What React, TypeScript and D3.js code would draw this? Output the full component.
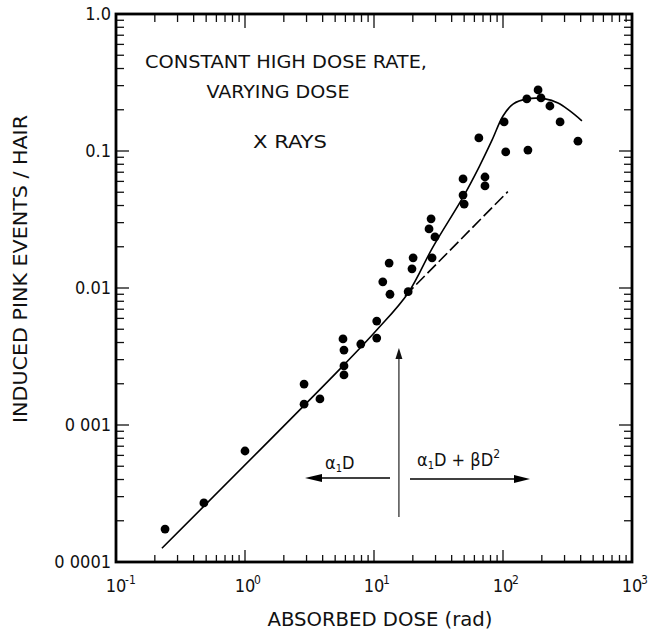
import React from 'react';
import * as d3 from 'd3';

// measured points (dose in rad, induced pink events per hair)
const pointDose = [0.24, 0.48, 1.0, 2.87, 2.87, 3.81, 5.75, 5.85, 5.85, 5.85, 7.9, 10.5, 10.5, 11.7, 13.3, 13.1, 18.4, 20.1, 19.7, 28.2, 26.7, 27.7, 29.7, 49, 49, 50, 72.5, 72.5, 65, 102, 105, 156, 153, 187, 197, 231, 277, 381];
const pointEvents = [1.74e-4, 2.7e-4, 6.46e-4, 1.99e-3, 1.42e-3, 1.55e-3, 4.25e-3, 3.52e-3, 2.7e-3, 2.32e-3, 3.9e-3, 4.31e-3, 5.74e-3, 0.0111, 0.009, 0.0152, 0.0094, 0.0166, 0.0138, 0.0166, 0.027, 0.032, 0.0236, 0.0625, 0.0477, 0.041, 0.0646, 0.0556, 0.1245, 0.163, 0.0984, 0.1016, 0.24, 0.279, 0.244, 0.213, 0.163, 0.118];

// fitted alpha1 D + beta D^2 curve (solid)
const fitDose = [0.227, 5.75, 10.5, 18.4, 28.6, 49, 65.2, 82.2, 100, 119.6, 153.5, 212, 267, 330, 409];
const fitEvents = [1.26e-4, 2.7e-3, 4.93e-3, 9.2e-3, 0.0199, 0.0461, 0.0764, 0.12, 0.18, 0.22, 0.24, 0.24, 0.224, 0.196, 0.166];

// linear alpha1 D extension (dashed)
const linDose = [17.4, 109];
const linEvents = [8.75e-3, 0.0505];

const yTickValues = [1, 0.1, 0.01, 0.001, 0.0001];
const yTickLabels = ['1.0', '0.1', '0.01', '0 001', '0 0001'];
const xTickValues = [0.1, 1, 10, 100, 1000];
const xTickExps = ['-1', '0', '1', '2', '3'];

const FONT = '"DejaVu Sans Condensed", "Liberation Sans Narrow", "DejaVu Sans", sans-serif';

const App = () => {
  const width = 652;
  const height = 629;
  const left = 116, right = 632, top = 14, bottom = 562;

  const x = d3.scaleLog().domain([0.1, 1000]).range([left, right]);
  const y = d3.scaleLog().domain([1e-4, 1]).range([bottom, top]);

  const xMinor = x.ticks();
  const yMinor = y.ticks();
  const isMajor = (v: number) => Math.abs(Math.log10(v) - Math.round(Math.log10(v))) < 1e-6;

  const line = d3.line<[number, number]>()
    .x(d => x(d[0]))
    .y(d => y(d[1]))
    .curve(d3.curveCatmullRom.alpha(0.5));

  const fitPts: [number, number][] = fitDose.map((d, i) => [d, fitEvents[i]]);
  const linPts: [number, number][] = linDose.map((d, i) => [d, linEvents[i]]);

  const arrowX = x(15.6);
  const arrowTop = 348, arrowBottom = 517;
  const hY = 478;

  return (
    <svg width={width} height={height} style={{ display: 'block', position: 'absolute', left: 0, top: 0, background: '#fff' }}
      fontFamily={FONT} fontStretch="condensed">
      <rect x={0} y={0} width={width} height={height} fill="#fff" />

      {/* ticks: left & right */}
      {yMinor.map((v, i) => {
        const len = isMajor(v) ? 13 : 8;
        return (
          <g key={'yt' + i} stroke="#111" strokeWidth={1.3}>
            <line x1={left} x2={left + len} y1={y(v)} y2={y(v)} />
            <line x1={right} x2={right - len} y1={y(v)} y2={y(v)} />
          </g>
        );
      })}
      {/* ticks: top & bottom */}
      {xMinor.map((v, i) => {
        const lenT = isMajor(v) ? 14 : 8;
        const lenB = isMajor(v) ? 12 : 7;
        return (
          <g key={'xt' + i} stroke="#111" strokeWidth={1.3}>
            <line x1={x(v)} x2={x(v)} y1={top} y2={top + lenT} />
            <line x1={x(v)} x2={x(v)} y1={bottom} y2={bottom - lenB} />
          </g>
        );
      })}

      {/* frame */}
      <rect x={left} y={top} width={right - left} height={bottom - top} fill="none" stroke="#000" strokeWidth={2.8} />

      {/* y tick labels */}
      {yTickValues.map((v, i) => (
        <text key={'yl' + i} x={left - 5} y={y(v)} dy="0.36em" textAnchor="end" fontSize={18} fill="#111">
          {yTickLabels[i]}
        </text>
      ))}

      {/* x tick labels */}
      {xTickValues.map((v, i) => (
        <g key={'xl' + i} fill="#111">
          <text x={x(v)} y={592} textAnchor="middle" fontSize={18}>10</text>
          <text x={x(v) + 9} y={584} textAnchor="start" fontSize={12}>{xTickExps[i]}</text>
        </g>
      ))}

      {/* axis titles */}
      <text x={380} y={626} textAnchor="middle" fontSize={19} textLength={225} lengthAdjust="spacingAndGlyphs" fill="#111">
        ABSORBED DOSE (rad)
      </text>
      <text transform="translate(27,269) rotate(-90)" textAnchor="middle" fontSize={19} textLength={308}
        lengthAdjust="spacingAndGlyphs" fill="#111">
        INDUCED PINK EVENTS / HAIR
      </text>

      {/* annotations */}
      <text x={286} y={68} textAnchor="middle" fontSize={18} textLength={282} lengthAdjust="spacingAndGlyphs" fill="#111">
        CONSTANT HIGH DOSE RATE,
      </text>
      <text x={278} y={98} textAnchor="middle" fontSize={18} textLength={143} lengthAdjust="spacingAndGlyphs" fill="#111">
        VARYING DOSE
      </text>
      <text x={290} y={148} textAnchor="middle" fontSize={18} textLength={74} lengthAdjust="spacingAndGlyphs" fill="#111">
        X RAYS
      </text>

      {/* curves */}
      <path d={line(fitPts) || ''} fill="none" stroke="#000" strokeWidth={1.6} />
      <path d={line(linPts) || ''} fill="none" stroke="#000" strokeWidth={1.6} strokeDasharray="12,4" />

      {/* points */}
      {pointDose.map((d, i) => (
        <circle key={'p' + i} cx={x(d)} cy={y(pointEvents[i])} r={4.4} fill="#000" />
      ))}

      {/* vertical arrow */}
      <line x1={arrowX} x2={arrowX} y1={arrowBottom} y2={arrowTop + 8} stroke="#333" strokeWidth={1.3} />
      <path d={`M${arrowX},${arrowTop} L${arrowX - 3.5},${arrowTop + 11} L${arrowX + 3.5},${arrowTop + 11} Z`} fill="#111" />

      {/* left arrow */}
      <line x1={390} x2={312} y1={hY} y2={hY} stroke="#000" strokeWidth={1.4} />
      <path d={`M305,${hY} L322,${hY - 4} L322,${hY + 4} Z`} fill="#000" />
      <text x={325} y={469} fontSize={18} fill="#111">
        α<tspan fontSize={11} dy={3}>1</tspan><tspan dy={-3}>D</tspan>
      </text>

      {/* right arrow */}
      <line x1={410} x2={522} y1={hY + 1} y2={hY + 1} stroke="#000" strokeWidth={1.4} />
      <path d={`M530,${hY + 1} L514,${hY - 3} L514,${hY + 5} Z`} fill="#000" />
      <text x={417} y={466} fontSize={18} fill="#111">
        α<tspan fontSize={11} dy={3}>1</tspan><tspan dy={-3}>D + βD</tspan><tspan fontSize={12} dy={-8}>2</tspan>
      </text>
    </svg>
  );
};

export default App;
